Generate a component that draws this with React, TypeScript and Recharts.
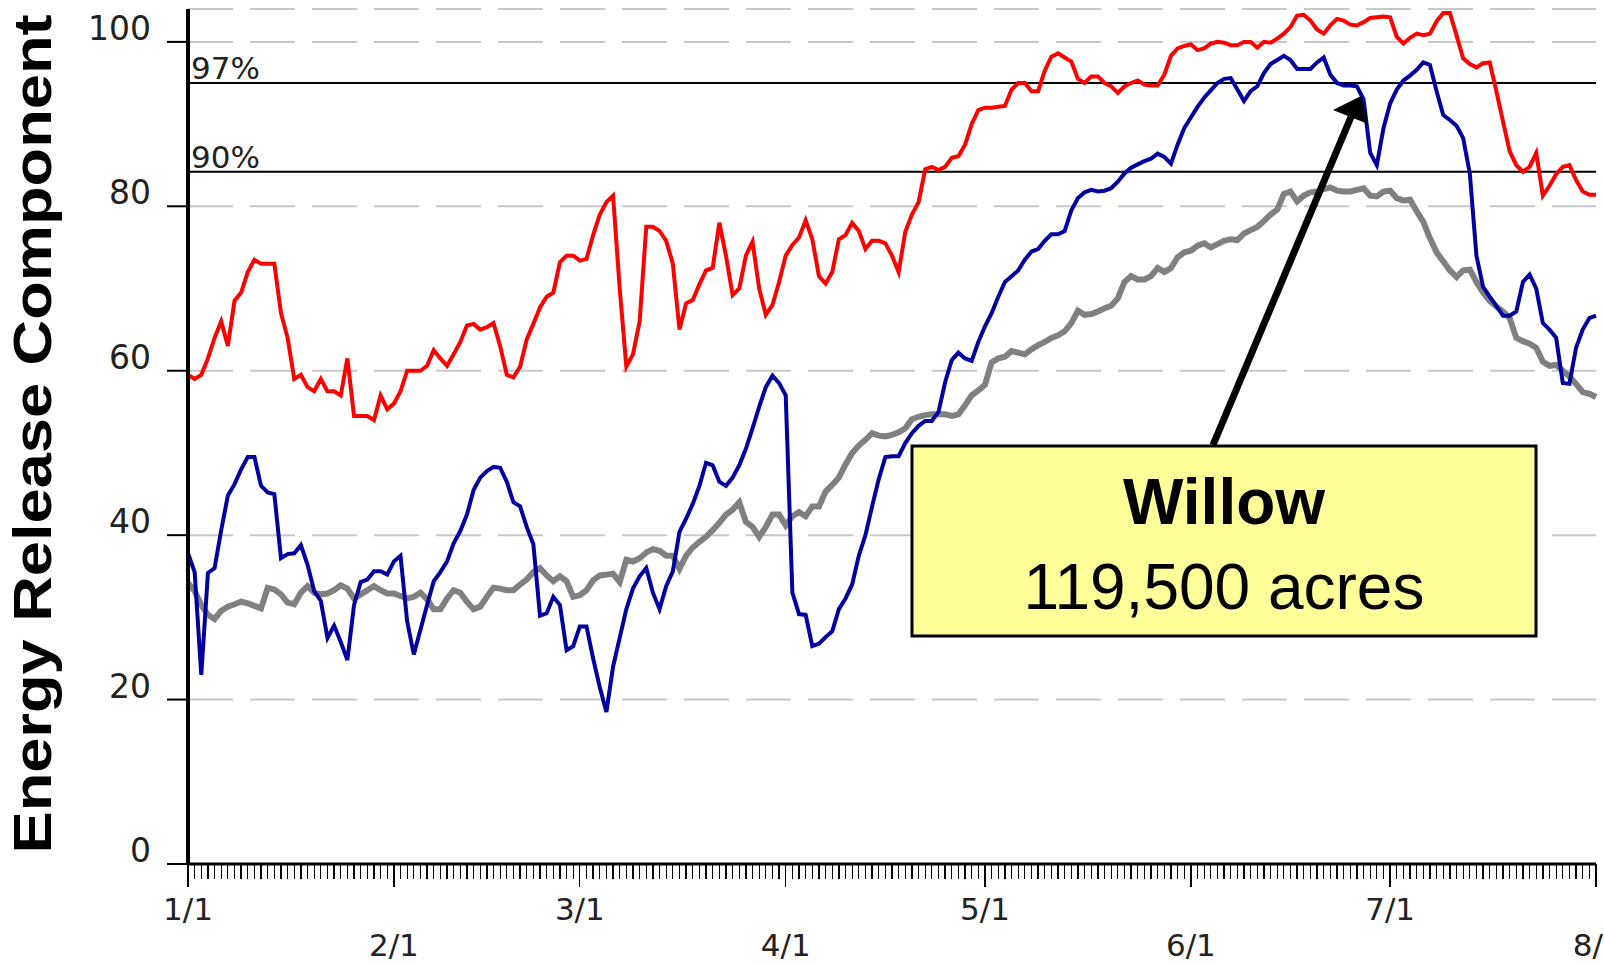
import { LineChart, Line, XAxis, YAxis, CartesianGrid, ReferenceLine } from "recharts";

// day index 0 = 1/1 ... 212 = 8/1
const monthStarts = [0, 31, 59, 90, 120, 151, 181, 212];
const monthLabels = ["1/1", "2/1", "3/1", "4/1", "5/1", "6/1", "7/1", "8/"];
const ercTicks = [0, 20, 40, 60, 80, 100];
const percentileValues = [95, 84.2];
const percentileLabels = ["97%", "90%"];

// red: historical max ERC
const maxErc = [
  59.5, 59, 59.5, 61.5, 64, 66, 63, 68.5, 69.5, 72,
  73.5, 73, 73, 73, 67, 64, 59, 59.5, 58, 57.5,
  59, 57.5, 57.5, 57, 61.5, 54.5, 54.5, 54.5, 54, 57,
  55.3, 56, 57.5, 60, 60, 60, 60.6, 62.5, 61.5, 60.6,
  62, 63.5, 65.5, 65.7, 65, 65.3, 65.8, 63, 59.5, 59.2,
  60.5, 63.8, 65.7, 67.7, 69, 69.5, 73.2, 74, 74, 73.4,
  73.6, 76.5, 79, 80.5, 81.3, 70, 60.5, 62, 66, 77.5,
  77.5, 77, 75.8, 73, 65, 68.2, 68.6, 70.5, 72.2, 72.5,
  78, 74, 69.2, 70, 74, 75.7, 70, 66.8, 68, 70.8,
  74, 75.3, 76.2, 78.3, 76, 71.5, 70.6, 72, 76, 76.5,
  78, 77, 74.8, 75.8, 75.8, 75.5, 74, 72, 76.9, 79,
  80.5, 84.5, 84.8, 84.4, 84.8, 85.9, 86.1, 87.5, 90, 91.7,
  92, 92, 92.1, 92.2, 94.2, 95, 95, 94, 94, 96.5,
  98.2, 98.6, 98.1, 97.6, 95.5, 95, 95.8, 95.8, 95, 94.6,
  93.8, 94.6, 95, 95.3, 94.8, 94.7, 94.7, 96, 98.3, 99.2,
  99.5, 99.7, 99, 99.2, 99.8, 100, 99.9, 99.6, 99.6, 100,
  100, 99.3, 100, 99.9, 100.4, 101, 101.8, 103.2, 103.3, 102.6,
  101.5, 101, 102, 102.8, 102.6, 102.1, 102, 102.4, 102.9, 103,
  103.1, 103, 100.6, 99.8, 100.5, 101, 100.8, 101, 102.5, 103.5,
  103.5, 100.8, 98, 97.3, 96.9, 97.4, 97.5, 94, 90.3, 86.7,
  85, 84.2, 84.8, 86.5, 81.3, 82.5, 83.9, 84.8, 85, 83.2,
  81.8, 81.4, 81.4,
];

// blue: Willow fire year
const willowErc = [
  37.8, 35.5, 23, 35.4, 36, 40.6, 44.8, 46.2, 48, 49.5,
  49.5, 46, 45.2, 45, 37.2, 37.7, 37.8, 38.8, 36.4, 33.2,
  32, 27.5, 29, 27, 24.8, 31.5, 34.3, 34.6, 35.6, 35.6,
  35.2, 36.8, 37.5, 29.5, 25.5, 28.5, 31.5, 34.4, 35.5, 36.8,
  39, 40.5, 42.5, 45.5, 47, 47.8, 48.3, 48.2, 46.5, 44,
  43.5, 41, 38.9, 30.2, 30.5, 32.5, 31.5, 26, 26.5, 28.9,
  28.9, 25, 21.5, 18.5, 24, 27.5, 31, 33.5, 35, 36,
  33, 31, 33.8, 35.6, 40.4, 42, 43.8, 46, 48.8, 48.5,
  46.5, 46, 47, 48.5, 50.5, 53, 55.6, 58, 59.4, 58.5,
  57, 33, 30.4, 30.3, 26.5, 26.8, 27.6, 28.3, 31, 32.3,
  34, 37.5, 40, 43.5, 46.8, 49.5, 49.6, 49.6, 51.2, 52.4,
  53.3, 53.9, 53.9, 55, 58.6, 61.3, 62.2, 61.5, 61.2, 63.5,
  65.4, 67, 69, 70.8, 71.5, 72.2, 73.5, 74.5, 74.8, 75.8,
  76.6, 76.6, 77, 79.5, 81, 81.7, 82, 81.8, 81.9, 82.2,
  83, 84, 84.7, 85.1, 85.5, 85.8, 86.4, 86, 85.2, 87.5,
  89.5, 90.8, 92.1, 93.2, 94.1, 95, 95.5, 95.6, 94.2, 92.8,
  94, 94.6, 96.2, 97.3, 97.8, 98.3, 97.8, 96.7, 96.7, 96.7,
  97.5, 98.1, 96, 95, 94.7, 94.7, 94.6, 93, 86.5, 85,
  89.5, 92.5, 94.2, 95.3, 95.9, 96.6, 97.5, 97.2, 94, 91.1,
  90.5, 89.8, 88.3, 84, 74, 70.2, 69, 67.9, 66.7, 66.7,
  67.2, 70.8, 71.7, 70, 65.8, 65, 64, 58.5, 58.4, 62.8,
  65, 66.4, 66.7,
];

// gray: average ERC
const avgErc = [
  34.2, 33.2, 31.5, 30.3, 29.8, 30.8, 31.3, 31.6, 31.9, 31.7,
  31.4, 31.1, 33.6, 33.4, 32.8, 31.8, 31.6, 33, 33.8, 33,
  32.8, 32.9, 33.3, 33.9, 33.5, 32.3, 32.8, 33.3, 33.8, 33.3,
  32.9, 32.9, 32.6, 32.3, 32.5, 33, 32.2, 31, 31, 32.3,
  33.3, 33, 31.9, 31, 31.3, 32.5, 33.6, 33.5, 33.3, 33.3,
  34, 34.6, 35.5, 36, 35.1, 34.4, 35, 34.4, 32.5, 32.7,
  33.3, 34.5, 35.1, 35.2, 35.3, 34.3, 37, 36.8, 37.2, 37.9,
  38.3, 38.1, 37.5, 37.5, 35.9, 37.5, 38.5, 39.2, 39.8, 40.6,
  41.5, 42.5, 43.1, 44, 41.6, 41, 39.8, 41, 42.5, 42.5,
  41.2, 42.3, 42.8, 42.3, 43.5, 43.5, 45.3, 46.1, 47, 48.6,
  50, 50.9, 51.6, 52.4, 52.1, 52, 52.2, 52.5, 53, 54.1,
  54.4, 54.6, 54.7, 54.7, 54.7, 54.5, 54.7, 55.8, 57, 57.6,
  58.3, 61, 61.5, 61.7, 62.4, 62.2, 62, 62.6, 63.1, 63.5,
  64, 64.3, 64.8, 65.8, 67.3, 66.8, 66.9, 67.2, 67.6, 67.9,
  68.8, 70.8, 71.5, 71.1, 71.1, 71.5, 72.5, 72, 72.5, 73.8,
  74.4, 74.6, 75.2, 75.5, 75, 75.4, 75.8, 76, 75.9, 76.7,
  77.1, 77.5, 78.2, 79, 79.6, 81.5, 81.8, 80.6, 81.3, 81.7,
  81.8, 82.1, 82.3, 81.9, 81.8, 81.8, 82, 82.2, 81.3, 81.2,
  81.8, 81.9, 81, 80.7, 80.8, 79.4, 78.1, 76.1, 74.4, 73.3,
  72.2, 71.4, 72.2, 72.3, 70.8, 69.5, 68.5, 67.8, 67.2, 66.4,
  64, 63.6, 63.3, 62.8, 61.1, 60.6, 60.7, 60, 59.3, 58.4,
  57.4, 57.2, 56.8,
];

const data = maxErc.map((v, i) => ({ day: i, max: v, willow: willowErc[i], avg: avgErc[i] }));
const dayTicks = data.map((d) => d.day);

const labelFont = "DejaVu Sans, Verdana, sans-serif";

const DayTick = ({ x, y, payload }: any) => {
  const idx = monthStarts.indexOf(payload.value);
  const isMonth = idx >= 0;
  const isLast = idx === monthStarts.length - 1;
  return (
    <g>
      <line x1={x} x2={x} y1={y} y2={y + (isMonth ? 23 : 15)} stroke="#000" strokeWidth={1.3} shapeRendering="crispEdges" />
      {isMonth && (
        <text
          x={isLast ? x + 7 : x}
          y={y + (idx % 2 === 0 ? 56 : 92)}
          textAnchor={isLast ? "end" : "middle"}
          fontFamily={labelFont}
          fontSize={31}
          fill="#222"
        >
          {monthLabels[idx]}
        </text>
      )}
    </g>
  );
};

const ErcTick = ({ x, y, payload }: any) => (
  <g>
    <line x1={x - 21} x2={x} y1={y} y2={y} stroke="#000" strokeWidth={2} />
    <text x={x - 37} y={y - 2} textAnchor="end" fontFamily={labelFont} fontSize={33} fill="#222">
      {payload.value}
    </text>
  </g>
);

export default function App() {
  return (
    <div style={{ position: "absolute", left: 0, top: 0, width: 1604, height: 965, background: "#fff" }}>
      <LineChart width={1604} height={965} data={data} margin={{ top: 9, right: 8, left: 0, bottom: 0 }}>
        <CartesianGrid vertical={false} stroke="#c8c8c8" strokeWidth={2} strokeDasharray="45 17" />
        <XAxis
          dataKey="day"
          type="number"
          domain={[0, 212]}
          ticks={dayTicks}
          interval={0}
          height={101}
          tickSize={0}
          tickMargin={0}
          tickLine={false}
          axisLine={{ stroke: "#000", strokeWidth: 3 }}
          tick={<DayTick />}
        />
        <YAxis
          type="number"
          domain={[0, 104]}
          ticks={ercTicks}
          width={188}
          tickSize={0}
          tickMargin={0}
          tickLine={false}
          axisLine={{ stroke: "#000", strokeWidth: 4 }}
          tick={<ErcTick />}
        />
        {percentileValues.map((v, i) => (
          <ReferenceLine
            key={percentileLabels[i]}
            y={v}
            stroke="#000"
            strokeWidth={2}
            label={(p: any) => (
              <text x={p.viewBox.x + 3} y={p.viewBox.y - 4} fontFamily={labelFont} fontSize={31} fill="#222">
                {percentileLabels[i]}
              </text>
            )}
          />
        ))}
        <Line type="linear" dataKey="avg" stroke="#808080" strokeWidth={6} dot={false} isAnimationActive={false} />
        <Line type="linear" dataKey="max" stroke="#ff0000" strokeWidth={4} dot={false} isAnimationActive={false} />
        <Line type="linear" dataKey="willow" stroke="#0000a0" strokeWidth={4} dot={false} isAnimationActive={false} />
      </LineChart>
      <svg width={1604} height={965} style={{ position: "absolute", left: 0, top: 0, pointerEvents: "none" }}>
        <text
          transform="translate(51,434) rotate(-90)"
          textAnchor="middle"
          fontFamily="Liberation Sans, Arial, sans-serif"
          fontWeight="bold"
          fontSize={54}
          textLength={839}
          lengthAdjust="spacingAndGlyphs"
          fill="#000"
        >
          Energy Release Component
        </text>
        <line x1={1213} y1={445} x2={1351} y2={117} stroke="#000" strokeWidth={7} />
        <polygon points="1361,96 1333,110 1368,124" fill="#000" />
        <rect x={912} y={446} width={624} height={190} fill="#ffff99" stroke="#000" strokeWidth={3} />
        <text x={1224} y={524} textAnchor="middle" fontFamily="Liberation Sans, Arial, sans-serif" fontWeight="bold" fontSize={64} fill="#000">
          Willow
        </text>
        <text x={1224} y={609} textAnchor="middle" fontFamily="Liberation Sans, Arial, sans-serif" fontSize={64} fill="#000">
          119,500 acres
        </text>
      </svg>
    </div>
  );
}
